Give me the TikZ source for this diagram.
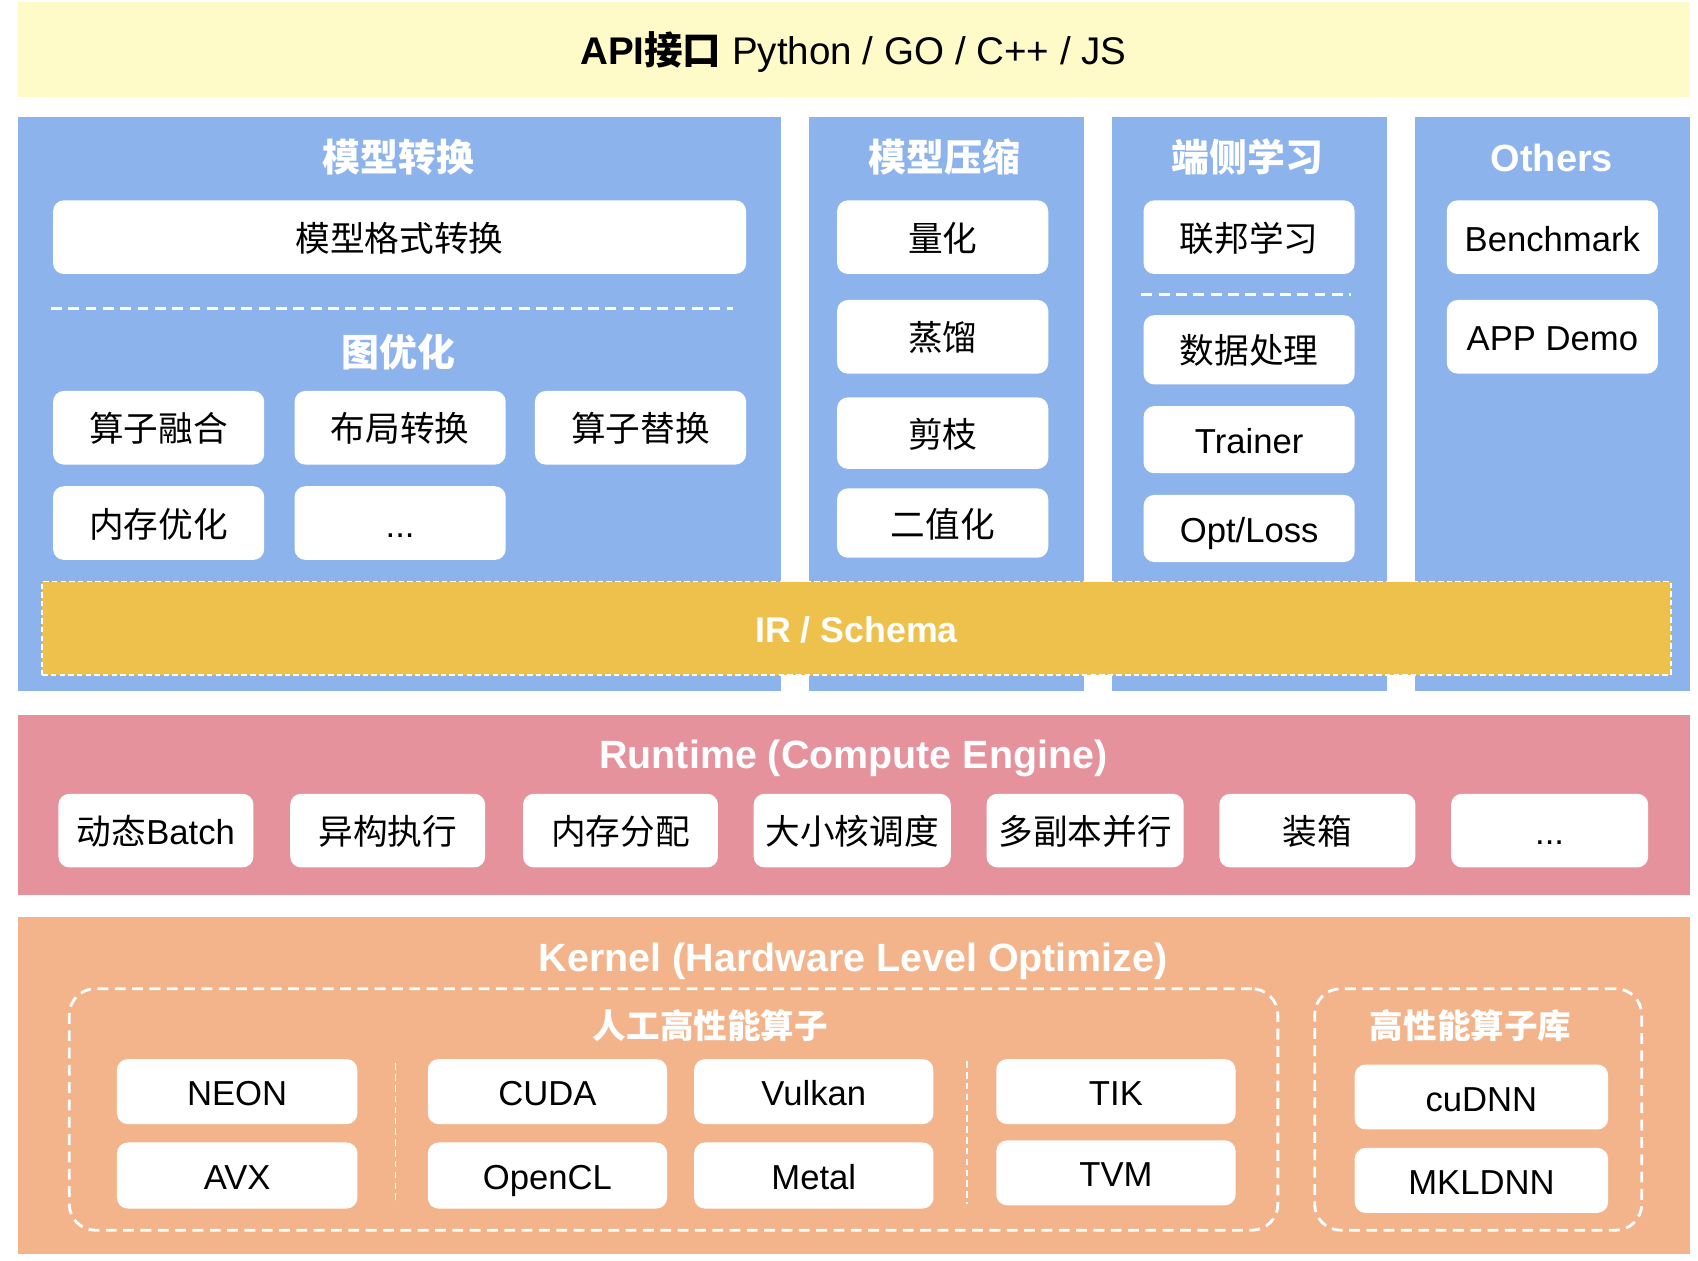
\documentclass[tikz,border=0pt]{standalone}
\usepackage{fontspec}
\setmainfont{Liberation Sans}
\newfontfamily\cjkfont{Noto Sans CJK SC}
\newcommand\zh[1]{{\cjkfont #1}}
% \bx{style}{name}{x1}{y1}{x2}{y2}{text}: a node filling the given corners
\newcommand\bx[7]{\node[#1, minimum width={(#5-#3)*0.5pt}, minimum height={(#6-#4)*0.5pt}] (#2) at ({(#3+#5)/2},{(#4+#6)/2}) {#7};}

\definecolor{apiyellow}{HTML}{FEFBC8}
\definecolor{panelblue}{HTML}{8DB3EC}
\definecolor{irgold}{HTML}{EEC14C}
\definecolor{rtpink}{HTML}{E6929D}
\definecolor{knorange}{HTML}{F3B48B}

\begin{document}
\begin{tikzpicture}[x=0.5pt,y=-0.5pt,
  every node/.style={inner sep=0pt, outer sep=0pt, text height=1.3em, text depth=0pt},
  band/.style={rectangle, draw=none},
  wbox/.style={rectangle, rounded corners=5pt, fill=white, draw=none, text=black,
    font=\fontsize{16}{19}\selectfont},
  title/.style={text=white, font=\fontsize{17.5}{21}\selectfont\bfseries},
  bigtitle/.style={text=white, font=\fontsize{18.2}{22}\selectfont\bfseries},
  subtitle/.style={text=white, font=\fontsize{15.5}{19}\selectfont\bfseries},
  sepline/.style={draw=white, line width=1.5pt, dash pattern=on 5pt off 3pt},
  vsep/.style={draw=white, line width=0.7pt, dash pattern=on 3pt off 2pt},
  group/.style={rectangle, draw=white, line width=1.3pt, dash pattern=on 5pt off 3pt,
    rounded corners=12pt, fill=none},
]
\useasboundingbox (0,0) rectangle (1568,1164);
\fill[white] (0,0) rectangle (1568,1164);

% API layer
\bx{band, fill=apiyellow}{api}{17}{2}{1561}{90}{}
\node[font=\fontsize{17.8}{21}\selectfont] (apitext) at (788,47)
  {\textbf{API\zh{接口}} Python / GO / C++ / JS};

% upper panels
\bx{band, fill=panelblue}{pconv}{17}{108}{721}{638}{}
\bx{band, fill=panelblue}{pcomp}{747}{108}{1001}{638}{}
\bx{band, fill=panelblue}{pedge}{1027}{108}{1281}{638}{}
\bx{band, fill=panelblue}{pothers}{1307}{108}{1561}{638}{}

\node[title] (tconv) at (368,145) {\zh{模型转换}};
\node[title] (tcomp) at (872,145) {\zh{模型压缩}};
\node[title] (tedge) at (1152,145) {\zh{端侧学习}};
\node[title] (tothers) at (1433,145) {Others};

% model conversion
\bx{wbox}{fmt}{49}{185}{689}{253}{\zh{模型格式转换}}
\coordinate (convsepL) at (47,285);
\coordinate (convsepR) at (677,285);
\draw[sepline] (convsepL) -- (convsepR);
\node[title] (tgraph) at (368,325) {\zh{图优化}};
\bx{wbox}{fuse}{49}{361}{244}{429}{\zh{算子融合}}
\bx{wbox}{layout}{272}{361}{467}{429}{\zh{布局转换}}
\bx{wbox}{replace}{494}{361}{689}{429}{\zh{算子替换}}
\bx{wbox}{memopt}{49}{449}{244}{517}{\zh{内存优化}}
\bx{wbox}{gmore}{272}{449}{467}{517}{...}

% model compression
\bx{wbox}{quant}{773}{185}{968}{253}{\zh{量化}}
\bx{wbox}{distill}{773}{277}{968}{345}{\zh{蒸馏}}
\bx{wbox}{prune}{773}{367}{968}{433}{\zh{剪枝}}
\bx{wbox}{binar}{773}{451}{968}{515}{\zh{二值化}}

% on-device learning
\bx{wbox}{fedl}{1056}{185}{1251}{253}{\zh{联邦学习}}
\coordinate (edgesepL) at (1054,272);
\coordinate (edgesepR) at (1248,272);
\draw[sepline] (edgesepL) -- (edgesepR);
\bx{wbox}{dataproc}{1056}{291}{1251}{355}{\zh{数据处理}}
\bx{wbox}{trainer}{1056}{375}{1251}{437}{Trainer}
\bx{wbox}{optloss}{1056}{457}{1251}{519}{Opt/Loss}

% others
\bx{wbox}{bench}{1336}{185}{1531}{253}{Benchmark}
\bx{wbox}{appdemo}{1336}{277}{1531}{345}{APP Demo}

% IR / Schema
\bx{band, fill=irgold, draw=white, line width=0.8pt, dash pattern=on 2.5pt off 1.5pt,
  text=white, font=\fontsize{16.5}{20}\selectfont\bfseries}{ir}{39}{537}{1543}{623}{IR / Schema}

% runtime layer
\bx{band, fill=rtpink}{runtime}{17}{660}{1561}{826}{}
\node[bigtitle] (truntime) at (788,697) {Runtime (Compute Engine)};
\bx{wbox}{dynbatch}{54}{733}{234}{801}{\zh{动态}Batch}
\bx{wbox}{hetero}{268}{733}{448}{801}{\zh{异构执行}}
\bx{wbox}{memalloc}{483}{733}{663}{801}{\zh{内存分配}}
\bx{wbox}{biglittle}{696}{733}{878}{801}{\zh{大小核调度}}
\bx{wbox}{multicopy}{911}{733}{1093}{801}{\zh{多副本并行}}
\bx{wbox}{packing}{1126}{733}{1307}{801}{\zh{装箱}}
\bx{wbox}{rtmore}{1340}{733}{1522}{801}{...}

% kernel layer
\bx{band, fill=knorange}{kernel}{17}{847}{1561}{1158}{}
\node[bigtitle] (tkernel) at (788,884) {Kernel (Hardware Level Optimize)};

\bx{group}{manual}{64}{913}{1180}{1136}{}
\node[subtitle] (tmanual) at (656,946) {\zh{人工高性能算子}};
\bx{wbox}{neon}{108}{978}{330}{1038}{NEON}
\bx{wbox}{avx}{108}{1055}{330}{1116}{AVX}
\bx{wbox}{cuda}{395}{978}{616}{1038}{CUDA}
\bx{wbox}{opencl}{395}{1055}{616}{1116}{OpenCL}
\bx{wbox}{vulkan}{641}{978}{862}{1038}{Vulkan}
\bx{wbox}{metal}{641}{1055}{862}{1116}{Metal}
\bx{wbox}{tik}{920}{978}{1141}{1038}{TIK}
\bx{wbox}{tvm}{920}{1053}{1141}{1113}{TVM}
\coordinate (vsepAt) at (365,982);
\coordinate (vsepAb) at (365,1112);
\coordinate (vsepBt) at (893,980);
\coordinate (vsepBb) at (893,1112);
\draw[vsep] (vsepAt) -- (vsepAb);
\draw[vsep] (vsepBt) -- (vsepBb);

\bx{group}{libs}{1214}{913}{1516}{1136}{}
\node[subtitle] (tlibs) at (1358,946) {\zh{高性能算子库}};
\bx{wbox}{cudnn}{1251}{983}{1485}{1043}{cuDNN}
\bx{wbox}{mkldnn}{1251}{1060}{1485}{1120}{MKLDNN}
\end{tikzpicture}
\end{document}
